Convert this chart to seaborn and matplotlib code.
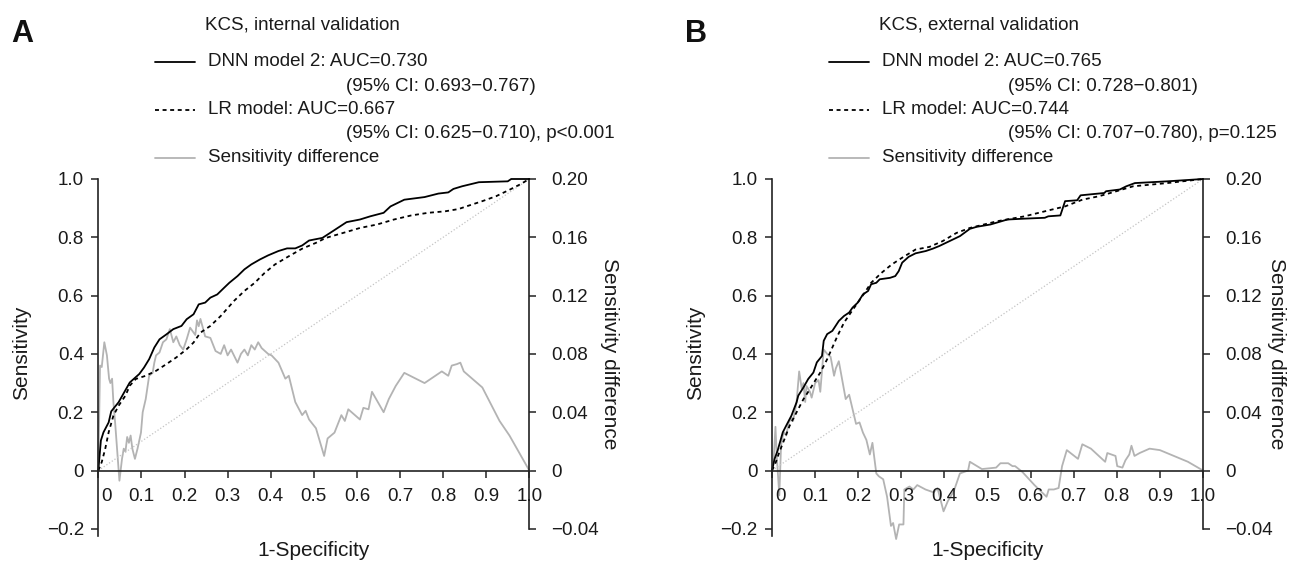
import matplotlib
matplotlib.use("Agg")
import matplotlib.pyplot as plt
from matplotlib.lines import Line2D
from matplotlib.transforms import ScaledTranslation
import seaborn as sns

# ---------------- data ----------------
chance_fpr = [0.0, 1.0]
chance_tpr = [0.0, 1.0]

x_ticks = [0, 0.1, 0.2, 0.3, 0.4, 0.5, 0.6, 0.7, 0.8, 0.9, 1.0]
x_tick_labels = ["0", "0.1", "0.2", "0.3", "0.4", "0.5", "0.6", "0.7", "0.8", "0.9", "1.0"]
y_ticks = [-0.2, 0, 0.2, 0.4, 0.6, 0.8, 1.0]
y_tick_labels = ["\u22120.2", "0", "0.2", "0.4", "0.6", "0.8", "1.0"]
y2_ticks = [-0.04, 0, 0.04, 0.08, 0.12, 0.16, 0.20]
y2_tick_labels = ["\u22120.04", "0", "0.04", "0.08", "0.12", "0.16", "0.20"]

# Panel A: internal validation
A_dnn_fpr = [0, 0.006, 0.012, 0.024, 0.030, 0.047, 0.073, 0.095, 0.106, 0.118,
             0.130, 0.142, 0.158, 0.174, 0.193, 0.205, 0.221, 0.233, 0.248, 0.260,
             0.276, 0.292, 0.304, 0.323, 0.339, 0.355, 0.375, 0.394, 0.418, 0.438,
             0.457, 0.473, 0.489, 0.520, 0.544, 0.576, 0.607, 0.631, 0.662, 0.678,
             0.710, 0.757, 0.789, 0.812, 0.824, 0.844, 0.883, 0.950, 0.958, 1.0]
A_dnn_tpr = [0, 0.103, 0.131, 0.165, 0.203, 0.234, 0.302, 0.331, 0.353, 0.382,
             0.422, 0.450, 0.467, 0.485, 0.496, 0.519, 0.536, 0.570, 0.576, 0.593,
             0.604, 0.627, 0.644, 0.667, 0.690, 0.707, 0.724, 0.738, 0.753, 0.762,
             0.762, 0.772, 0.789, 0.798, 0.821, 0.852, 0.861, 0.872, 0.884, 0.906,
             0.929, 0.938, 0.950, 0.954, 0.966, 0.975, 0.989, 0.992, 1.0, 1.0]
A_lr_fpr = [0, 0.008, 0.016, 0.024, 0.035, 0.047, 0.063, 0.073, 0.087, 0.110,
            0.134, 0.158, 0.181, 0.205, 0.221, 0.237, 0.260, 0.284, 0.315, 0.339,
            0.363, 0.386, 0.410, 0.442, 0.473, 0.505, 0.528, 0.568, 0.607, 0.647,
            0.686, 0.726, 0.765, 0.804, 0.836, 0.860, 0.891, 0.923, 0.954, 0.978, 1.0]
A_lr_tpr = [0, 0.029, 0.074, 0.131, 0.188, 0.222, 0.257, 0.291, 0.314, 0.325,
            0.342, 0.365, 0.388, 0.416, 0.439, 0.473, 0.496, 0.530, 0.582, 0.616,
            0.644, 0.678, 0.707, 0.735, 0.761, 0.781, 0.798, 0.815, 0.832, 0.844,
            0.861, 0.875, 0.884, 0.889, 0.897, 0.909, 0.924, 0.941, 0.963, 0.981, 1.0]
A_diff_fpr = [0, 0.004, 0.008, 0.014, 0.020, 0.025, 0.028, 0.032, 0.035, 0.039,
              0.043, 0.049, 0.055, 0.059, 0.063, 0.067, 0.071, 0.075, 0.079, 0.085,
              0.091, 0.099, 0.103, 0.110, 0.118, 0.126, 0.130, 0.134, 0.142, 0.150,
              0.158, 0.166, 0.174, 0.181, 0.189, 0.197, 0.205, 0.213, 0.225, 0.229,
              0.233, 0.237, 0.248, 0.260, 0.272, 0.284, 0.292, 0.300, 0.308, 0.323,
              0.331, 0.339, 0.347, 0.355, 0.363, 0.371, 0.379, 0.394, 0.402, 0.418,
              0.434, 0.442, 0.457, 0.473, 0.481, 0.489, 0.505, 0.524, 0.532, 0.548,
              0.564, 0.572, 0.580, 0.607, 0.615, 0.627, 0.635, 0.662, 0.674, 0.690,
              0.710, 0.757, 0.797, 0.812, 0.820, 0.832, 0.840, 0.848, 0.891, 0.931,
              0.954, 1.0]
A_diff = [0, 0.072, 0.071, 0.088, 0.079, 0.063, 0.060, 0.063, 0.047, 0.033,
          0.017, -0.007, 0.008, 0.015, 0.013, 0.023, 0.019, 0.024, 0.015, 0.008,
          0.015, 0.026, 0.040, 0.049, 0.065, 0.067, 0.074, 0.079, 0.081, 0.088,
          0.090, 0.097, 0.088, 0.092, 0.086, 0.083, 0.090, 0.098, 0.093, 0.103,
          0.099, 0.104, 0.092, 0.091, 0.082, 0.080, 0.086, 0.079, 0.083, 0.074,
          0.080, 0.083, 0.079, 0.086, 0.083, 0.088, 0.084, 0.080, 0.079, 0.074,
          0.063, 0.065, 0.047, 0.038, 0.041, 0.035, 0.029, 0.010, 0.022, 0.026,
          0.038, 0.034, 0.042, 0.035, 0.043, 0.042, 0.054, 0.040, 0.049, 0.058,
          0.067, 0.060, 0.068, 0.065, 0.072, 0.073, 0.074, 0.068, 0.057, 0.034,
          0.024, 0.0]

# Panel B: external validation
B_dnn_fpr = [0, 0.006, 0.013, 0.025, 0.033, 0.045, 0.057, 0.061, 0.073, 0.084,
             0.096, 0.104, 0.116, 0.120, 0.128, 0.140, 0.155, 0.167, 0.179, 0.187,
             0.199, 0.211, 0.223, 0.230, 0.242, 0.250, 0.274, 0.286, 0.294, 0.302,
             0.317, 0.333, 0.357, 0.373, 0.388, 0.412, 0.436, 0.459, 0.475, 0.507,
             0.546, 0.586, 0.633, 0.641, 0.669, 0.680, 0.708, 0.716, 0.771, 0.775,
             0.807, 0.822, 0.842, 0.917, 1.0]
B_dnn_tpr = [0, 0.040, 0.068, 0.131, 0.154, 0.188, 0.234, 0.257, 0.285, 0.314,
             0.336, 0.371, 0.393, 0.445, 0.468, 0.479, 0.513, 0.530, 0.542, 0.559,
             0.576, 0.604, 0.616, 0.639, 0.644, 0.656, 0.661, 0.667, 0.684, 0.713,
             0.733, 0.745, 0.753, 0.761, 0.770, 0.787, 0.804, 0.829, 0.836, 0.844,
             0.861, 0.864, 0.867, 0.872, 0.875, 0.924, 0.927, 0.944, 0.952, 0.958,
             0.964, 0.975, 0.986, 0.992, 1.0]
B_lr_fpr = [0, 0.009, 0.017, 0.029, 0.041, 0.049, 0.061, 0.073, 0.088, 0.100,
            0.112, 0.128, 0.140, 0.152, 0.167, 0.183, 0.199, 0.215, 0.230, 0.254,
            0.278, 0.302, 0.333, 0.365, 0.396, 0.428, 0.459, 0.522, 0.586, 0.649,
            0.680, 0.720, 0.759, 0.799, 0.838, 0.917, 1.0]
B_lr_tpr = [0, 0.029, 0.063, 0.108, 0.154, 0.177, 0.211, 0.245, 0.279, 0.308,
            0.336, 0.382, 0.422, 0.462, 0.507, 0.542, 0.576, 0.610, 0.644, 0.678,
            0.707, 0.730, 0.758, 0.767, 0.787, 0.815, 0.832, 0.855, 0.872, 0.895,
            0.906, 0.929, 0.941, 0.958, 0.975, 0.986, 1.0]
B_diff_fpr = [0, 0.004, 0.008, 0.011, 0.017, 0.021, 0.025, 0.029, 0.033, 0.039,
              0.045, 0.049, 0.057, 0.063, 0.069, 0.073, 0.077, 0.080, 0.088, 0.092,
              0.100, 0.108, 0.112, 0.120, 0.128, 0.136, 0.144, 0.148, 0.155, 0.163,
              0.171, 0.179, 0.187, 0.195, 0.203, 0.211, 0.219, 0.227, 0.233, 0.242,
              0.248, 0.258, 0.267, 0.276, 0.281, 0.288, 0.295, 0.305, 0.307, 0.319,
              0.328, 0.337, 0.356, 0.375, 0.384, 0.398, 0.408, 0.422, 0.436, 0.455,
              0.459, 0.487, 0.520, 0.530, 0.548, 0.558, 0.564, 0.581, 0.609, 0.637,
              0.642, 0.654, 0.665, 0.673, 0.684, 0.710, 0.720, 0.740, 0.773, 0.778,
              0.797, 0.801, 0.813, 0.820, 0.829, 0.834, 0.841, 0.853, 0.876, 0.900,
              0.965, 1.0]
B_diff = [0, 0.008, 0.030, 0.010, -0.017, 0.017, 0.024, 0.026, 0.024, 0.033,
          0.036, 0.034, 0.047, 0.068, 0.056, 0.060, 0.047, 0.058, 0.054, 0.050,
          0.060, 0.062, 0.054, 0.083, 0.080, 0.078, 0.065, 0.070, 0.075, 0.062,
          0.049, 0.052, 0.042, 0.032, 0.033, 0.026, 0.021, 0.011, 0.019, -0.002,
          -0.004, -0.006, -0.018, -0.038, -0.036, -0.047, -0.037, -0.037, -0.013, -0.011,
          -0.013, -0.010, -0.013, -0.015, -0.012, -0.028, -0.021, -0.014, -0.002, 0.000,
          0.006, 0.001, 0.002, 0.005, 0.005, 0.003, 0.003, -0.001, -0.010, -0.018,
          -0.013, -0.013, -0.012, 0.003, 0.014, 0.008, 0.018, 0.015, 0.006, 0.012,
          0.010, 0.003, 0.002, 0.007, 0.011, 0.017, 0.010, 0.012, 0.015, 0.014,
          0.006, 0.0]

panel_letters = ["A", "B"]
panel_titles = ["KCS, internal validation", "KCS, external validation"]
dnn_labels = ["DNN model 2: AUC=0.730", "DNN model 2: AUC=0.765"]
dnn_ci = ["(95% CI: 0.693\u22120.767)", "(95% CI: 0.728\u22120.801)"]
lr_labels = ["LR model: AUC=0.667", "LR model: AUC=0.744"]
lr_ci = ["(95% CI: 0.625\u22120.710), p<0.001", "(95% CI: 0.707\u22120.780), p=0.125"]
diff_label = "Sensitivity difference"

# ---------------- style ----------------
sns.set_theme(style="ticks")
plt.rcParams["font.family"] = ["Liberation Sans", "DejaVu Sans"]
plt.rcParams["axes.unicode_minus"] = True

TXT = "#1a1a1a"
GREY = "#b3b3b3"
DIAG = "#c4c4c4"
LW = 1.3
DOT = (0, (2.2, 2.0))
FS_LEG = 13.5
FS_LAB = 15
FS_TICK = 13.5

W, H = 1290, 564
fig = plt.figure(figsize=(W / 100, H / 100), dpi=100)


def fx(px):
    return px / W


def fy(py):
    return 1 - py / H


def panel(spine_left_px, dnn_f, dnn_t, lr_f, lr_t, d_f, d_v, idx, ci_px, rlab_x):
    ax = fig.add_axes([fx(spine_left_px), (H - 543.4) / H, 431 / W, 364.4 / H])
    tw = ax.twinx()
    ax.set_zorder(tw.get_zorder() + 1)
    ax.patch.set_visible(False)

    sns.lineplot(x=chance_fpr, y=chance_tpr, ax=ax, color=DIAG, lw=0.9,
                 linestyle=(0, (1, 1.6)), sort=False, estimator=None)
    sns.lineplot(x=d_f, y=d_v, ax=tw, color=GREY, lw=LW, sort=False,
                 estimator=None, clip_on=False)
    sns.lineplot(x=lr_f, y=lr_t, ax=ax, color="black", lw=LW, linestyle=DOT,
                 sort=False, estimator=None, clip_on=False)
    sns.lineplot(x=dnn_f, y=dnn_t, ax=ax, color="black", lw=LW, sort=False,
                 estimator=None, clip_on=False)

    ax.set_xlim(0, 1)
    ax.set_ylim(-0.25, 1.0)
    tw.set_ylim(-0.05, 0.2)

    for s in ("top", "right"):
        ax.spines[s].set_visible(False)
    for s in ("top", "left", "bottom"):
        tw.spines[s].set_visible(False)
    ax.spines["bottom"].set_position(("data", 0))
    ax.spines["bottom"].set_bounds(0, 1)
    ax.spines["left"].set_bounds(-0.225, 1.0)
    tw.spines["right"].set_bounds(-0.04, 0.2)
    for sp in (ax.spines["bottom"], ax.spines["left"], tw.spines["right"]):
        sp.set_linewidth(1.2)
        sp.set_color("#222222")

    ax.set_xticks(x_ticks)
    ax.set_xticklabels(x_tick_labels)
    ax.set_yticks(y_ticks)
    ax.set_yticklabels(y_tick_labels)
    tw.set_yticks(y2_ticks)
    tw.set_yticklabels(y2_tick_labels)

    ax.tick_params(axis="x", direction="out", length=4.8, width=1.1, pad=7.5,
                   labelsize=FS_TICK, colors="#222222", labelcolor=TXT)
    ax.tick_params(axis="y", direction="out", length=4.8, width=1.1, pad=5.5,
                   labelsize=FS_TICK, colors="#222222", labelcolor=TXT)
    tw.tick_params(axis="y", direction="out", length=4.8, width=1.1, pad=11,
                   labelsize=FS_TICK, colors="#222222", labelcolor=TXT)

    # shift the "0" x tick label off the left spine
    lab0 = ax.get_xticklabels()[0]
    lab0.set_transform(lab0.get_transform() +
                       ScaledTranslation(0.08, 0, fig.dpi_scale_trans))

    ax.set_xlabel("1-Specificity", fontsize=FS_LAB, color=TXT)
    ax.xaxis.set_label_coords(0.5, -0.019)
    ax.xaxis.label.set_verticalalignment("center")
    ax.set_ylabel("Sensitivity", fontsize=FS_LAB, color=TXT)
    ax.yaxis.set_label_coords(-0.177, 0.522)
    ax.yaxis.label.set_verticalalignment("center")
    tw.set_ylabel("Sensitivity difference", fontsize=FS_LAB, color=TXT,
                  rotation=270)
    tw.yaxis.set_label_coords(rlab_x, 0.52)
    tw.yaxis.label.set_verticalalignment("center")

    # header / legend
    base = spine_left_px
    fig.text(fx(base - 76), fy(34), panel_letters[idx], fontsize=22,
             fontweight="bold", color="#111111", ha="center", va="center")
    fig.text(fx(base + 107), fy(25), panel_titles[idx], fontsize=FS_LEG,
             color=TXT, ha="left", va="center")
    rows = [62, 86, 110, 134, 158]
    lx0, lx1, tx = base + 57, base + 97, base + 110
    fig.add_artist(Line2D([fx(lx0), fx(lx1)], [fy(rows[0])] * 2, color="black",
                          lw=LW, transform=fig.transFigure))
    fig.text(fx(tx), fy(rows[0]), dnn_labels[idx], fontsize=FS_LEG, color=TXT,
             ha="left", va="center")
    fig.text(fx(ci_px), fy(rows[1]), dnn_ci[idx], fontsize=FS_LEG, color=TXT,
             ha="left", va="center")
    fig.add_artist(Line2D([fx(lx0), fx(lx1)], [fy(rows[2])] * 2, color="black",
                          lw=LW, linestyle=DOT, transform=fig.transFigure))
    fig.text(fx(tx), fy(rows[2]), lr_labels[idx], fontsize=FS_LEG, color=TXT,
             ha="left", va="center")
    fig.text(fx(ci_px), fy(rows[3]), lr_ci[idx], fontsize=FS_LEG, color=TXT,
             ha="left", va="center")
    fig.add_artist(Line2D([fx(lx0), fx(lx1)], [fy(rows[4])] * 2, color=GREY,
                          lw=LW, transform=fig.transFigure))
    fig.text(fx(tx), fy(rows[4]), diff_label, fontsize=FS_LEG, color=TXT,
             ha="left", va="center")
    return ax, tw


panel(98.3, A_dnn_fpr, A_dnn_tpr, A_lr_fpr, A_lr_tpr, A_diff_fpr, A_diff, 0, 346, 1.185)
panel(772.0, B_dnn_fpr, B_dnn_tpr, B_lr_fpr, B_lr_tpr, B_diff_fpr, B_diff, 1, 1008, 1.170)

fig.savefig("out.png", dpi=100, facecolor="white")
